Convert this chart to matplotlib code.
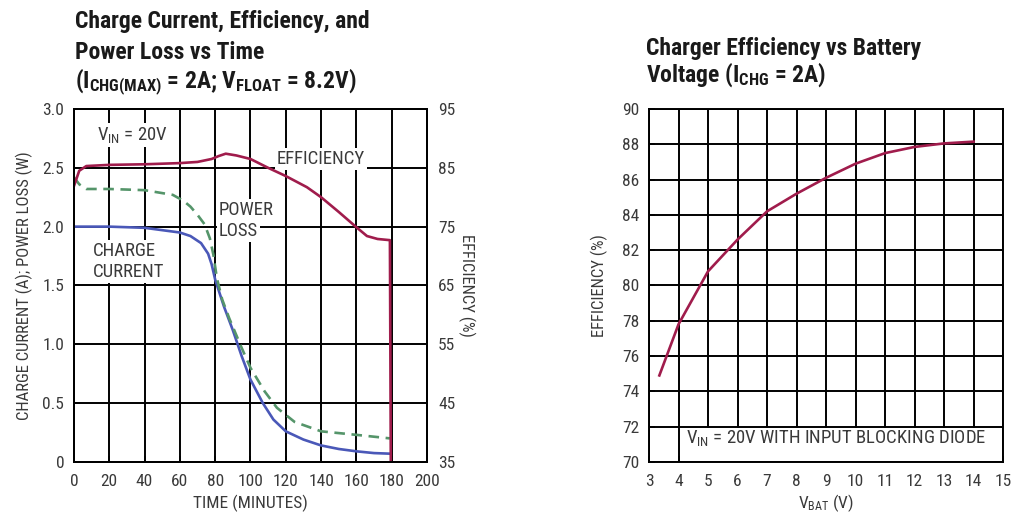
import matplotlib.pyplot as plt
from matplotlib.patches import Rectangle

# --- data ---
time_eff = [0, 3, 7, 20, 40, 60, 70, 78, 82, 86, 92, 100, 110, 120, 132, 140, 150, 160, 166, 172, 179, 179.5]
eff_time = [81.9, 84.5, 85.3, 85.5, 85.6, 85.8, 86.0, 86.5, 87.0, 87.4, 87.1, 86.5, 85.0, 83.6, 81.7, 80.0, 77.5, 74.9, 73.4, 72.9, 72.7, 35]

time_chg = [0, 20, 40, 60, 66, 72, 76, 78, 80, 85, 90, 95, 100, 107, 113, 120, 130, 140, 150, 160, 170, 179]
charge_current = [2.0, 2.0, 1.99, 1.95, 1.92, 1.86, 1.77, 1.68, 1.55, 1.32, 1.12, 0.9, 0.7, 0.5, 0.36, 0.26, 0.19, 0.14, 0.11, 0.09, 0.075, 0.07]

time_loss = [0, 3, 7, 20, 40, 56, 62, 66, 70, 74, 77, 79, 81, 84, 88, 95, 100, 108, 115, 125, 140, 160, 179]
power_loss = [2.42, 2.36, 2.32, 2.32, 2.31, 2.27, 2.22, 2.17, 2.1, 2.02, 1.9, 1.76, 1.56, 1.38, 1.22, 0.97, 0.8, 0.6, 0.46, 0.34, 0.26, 0.23, 0.2]

v_bat = [3.35, 4, 4.5, 5, 6, 7, 8, 9, 10, 11, 12, 13, 14]
eff_vbat = [74.9, 77.8, 79.3, 80.8, 82.6, 84.2, 85.2, 86.1, 86.9, 87.5, 87.85, 88.05, 88.15]

x_ticks_time = list(range(0, 201, 20))
y_ticks_left = [0, 0.5, 1.0, 1.5, 2.0, 2.5, 3.0]
y_labels_left = ['0', '0.5', '1.0', '1.5', '2.0', '2.5', '3.0']
y_ticks_eff = list(range(35, 96, 10))
x_ticks_vbat = list(range(3, 16))
y_ticks_vbat = list(range(70, 91, 2))

plt.rcParams['font.family'] = ['Roboto Condensed', 'Liberation Sans Narrow', 'Roboto', 'DejaVu Sans']
plt.rcParams['mathtext.default'] = 'regular'

RED = '#a01c4c'
BLUE = '#4a58b8'
GREEN = '#55956a'
GREY = '#3a3a3a'
TICK_FS = 12.5
LAB_FS = 12.5
ANN_FS = 13.5

fig = plt.figure(figsize=(10.13, 5.19), dpi=100)


def style(ax):
    ax.grid(True, color='black', linewidth=1.4)
    for s in ax.spines.values():
        s.set_linewidth(1.4)
    ax.tick_params(direction='in', length=4, width=1.2, labelsize=TICK_FS, labelcolor=GREY)
    ax.tick_params(axis='x', pad=9)
    ax.tick_params(axis='y', pad=7)


# left chart
ax = fig.add_axes([0.073, 0.110, 0.3485, 0.680])
ax.plot(time_chg, charge_current, color=BLUE, lw=1.9, zorder=4)
ax.plot(time_loss, power_loss, color=GREEN, lw=1.9, ls=(0, (4, 2.5)), zorder=4)
ax.set_xlim(0, 200)
ax.set_ylim(0, 3.0)
ax.set_xticks(x_ticks_time)
ax.set_yticks(y_ticks_left)
ax.set_yticklabels(y_labels_left)
style(ax)
ax.set_xlabel('TIME (MINUTES)', fontsize=LAB_FS, color=GREY, labelpad=4)
ax.set_ylabel('CHARGE CURRENT (A); POWER LOSS (W)', fontsize=12, color=GREY, labelpad=7)

box = dict(facecolor='white', edgecolor='none', pad=1.5)
ax.text(13, 2.74, 'V$_{IN}$ = 20V', fontsize=ANN_FS, color=GREY, bbox=box, zorder=3)
ax.text(115, 2.53, 'EFFICIENCY', fontsize=ANN_FS, color=GREY, bbox=box, zorder=3)
ax.text(82, 2.10, 'POWER', fontsize=ANN_FS, color=GREY, bbox=box, zorder=3)
ax.text(82, 1.92, 'LOSS', fontsize=ANN_FS, color=GREY, bbox=box, zorder=3)
ax.text(11, 1.75, 'CHARGE', fontsize=ANN_FS, color=GREY, bbox=box, zorder=3)
ax.text(11, 1.57, 'CURRENT', fontsize=ANN_FS, color=GREY, bbox=box, zorder=3)

ax2 = ax.twinx()
ax2.plot(time_eff, eff_time, color=RED, lw=1.9)
ax2.set_ylim(35, 95)
ax2.set_yticks(y_ticks_eff)
ax2.tick_params(direction='in', length=0, pad=8, labelsize=TICK_FS, labelcolor=GREY)
for s in ax2.spines.values():
    s.set_linewidth(1.4)
ax2.set_ylabel('EFFICIENCY (%)', fontsize=12, color=GREY, rotation=-90, labelpad=14)

# right chart
bx = fig.add_axes([0.6407, 0.110, 0.3495, 0.680])
bx.plot(v_bat, eff_vbat, color=RED, lw=1.9, zorder=4)
bx.set_xlim(3, 15)
bx.set_ylim(70, 90)
bx.set_xticks(x_ticks_vbat)
bx.set_yticks(y_ticks_vbat)
style(bx)
bx.add_patch(Rectangle((4.08, 70.05), 10.85, 1.88, facecolor='white', edgecolor='none', zorder=1.8))
bx.text(4.25, 71.05, 'V$_{IN}$ = 20V WITH INPUT BLOCKING DIODE', fontsize=ANN_FS, color=GREY, zorder=3)
bx.set_xlabel('V$_{BAT}$ (V)', fontsize=LAB_FS, color=GREY, labelpad=2)
bx.set_ylabel('EFFICIENCY (%)', fontsize=12, color=GREY, labelpad=10)

# titles
tkw = dict(fontsize=17, fontweight='bold', color='#1a1a1a', va='baseline')
fig.text(0.074, 0.946, 'Charge Current, Efficiency, and', **tkw)
fig.text(0.074, 0.886, 'Power Loss vs Time', **tkw)
fig.text(0.074, 0.830, '(I$_{CHG(MAX)}$ = 2A; V$_{FLOAT}$ = 8.2V)', **tkw)
fig.text(0.638, 0.894, 'Charger Efficiency vs Battery', **tkw)
fig.text(0.638, 0.842, 'Voltage (I$_{CHG}$ = 2A)', **tkw)

fig.savefig('out.png', dpi=100, facecolor='white')
